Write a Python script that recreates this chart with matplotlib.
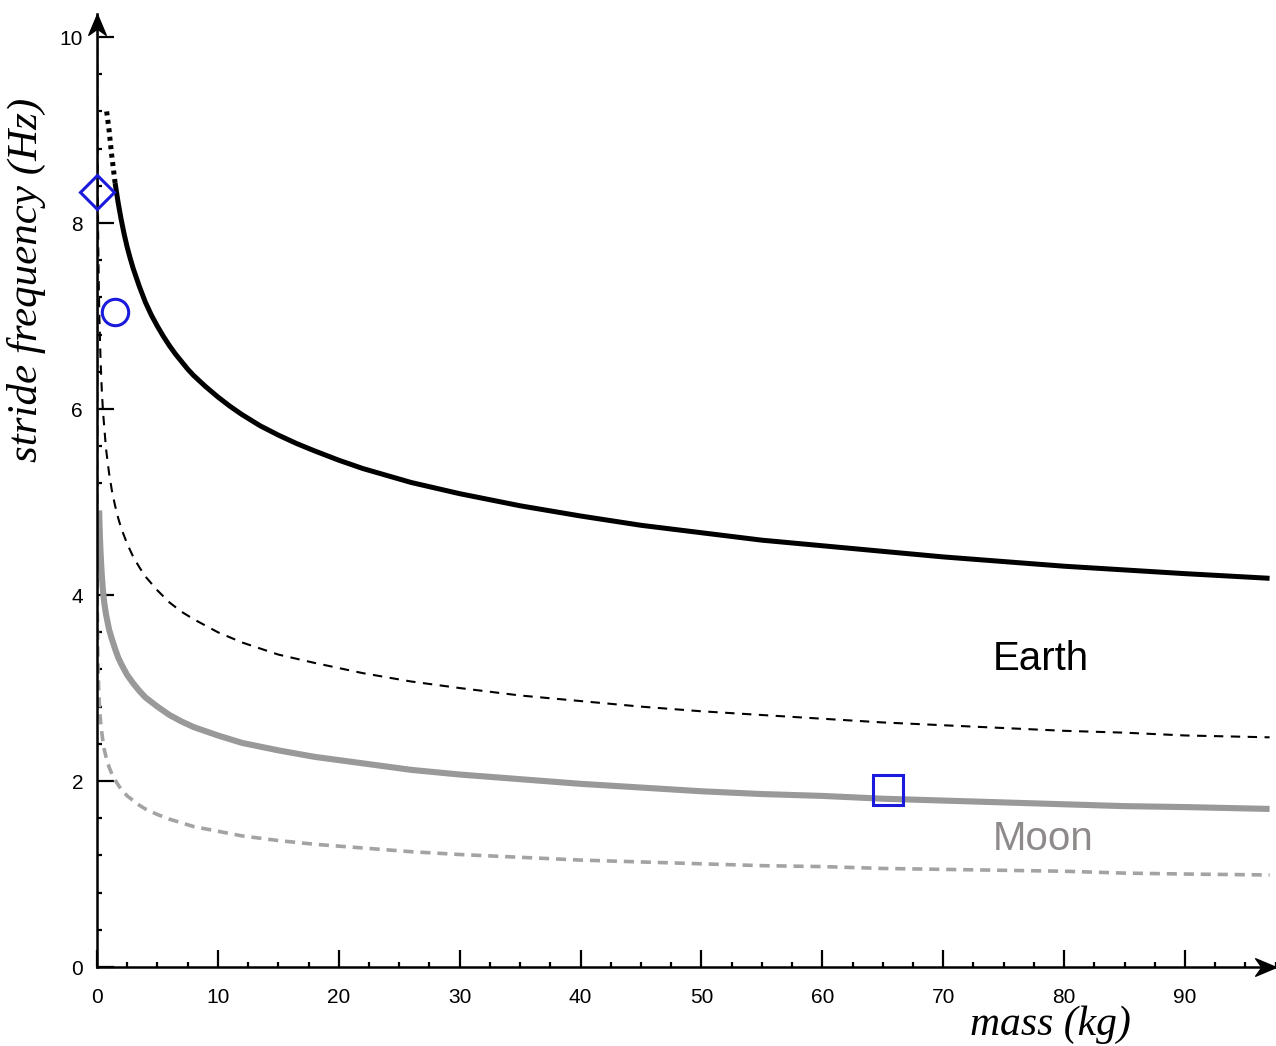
import matplotlib
matplotlib.use("Agg")
from matplotlib import pyplot as plt
from matplotlib.ticker import MultipleLocator
from matplotlib.path import Path

# mass (kg) and stride frequency (Hz)
earth_m = [1.5, 1.75, 2, 2.25, 2.5, 2.75, 3, 3.5, 4, 4.5, 5, 5.5, 6, 6.5, 7,
           7.5, 8, 9, 10, 11, 12, 13.5, 15, 16.5, 18, 20, 22, 26, 30, 35, 40,
           45, 50, 55, 60, 65, 70, 75, 80, 85, 90, 97]
earth_f = [8.43, 8.22, 8.04, 7.88, 7.74, 7.62, 7.51, 7.32, 7.15, 7.01, 6.89,
           6.78, 6.68, 6.59, 6.51, 6.43, 6.36, 6.24, 6.13, 6.03, 5.94, 5.82,
           5.72, 5.63, 5.55, 5.45, 5.36, 5.21, 5.09, 4.96, 4.85, 4.75, 4.67,
           4.59, 4.53, 4.47, 4.41, 4.36, 4.31, 4.27, 4.23, 4.18]
earth_tip_m = [0.8, 1.0, 1.2, 1.5]
earth_tip_f = [9.2, 9.0, 8.75, 8.43]

earth_low_m = [0.02, 0.03, 0.04, 0.05, 0.07, 0.1, 0.15, 0.2, 0.3, 0.4, 0.5,
               0.75, 1, 1.25, 1.5, 1.75, 2, 2.5, 3, 3.5, 4, 5, 6, 7, 8, 10,
               12, 15, 18, 22, 26, 30, 35, 40, 45, 50, 55, 60, 65, 70, 75, 80,
               85, 90, 97]
earth_low_f = [10.28, 9.60, 9.15, 8.81, 8.32, 7.84, 7.32, 6.97, 6.51, 6.20,
               5.97, 5.57, 5.31, 5.11, 4.96, 4.83, 4.72, 4.55, 4.41, 4.30,
               4.20, 4.05, 3.92, 3.82, 3.74, 3.60, 3.49, 3.36, 3.27, 3.16,
               3.07, 3.0, 2.92, 2.86, 2.80, 2.75, 2.71, 2.67, 2.63, 2.60,
               2.57, 2.54, 2.52, 2.49, 2.47]

moon_m = [0.18, 0.2, 0.25, 0.3, 0.35, 0.4, 0.5, 0.6, 0.75, 1, 1.25, 1.5, 1.75,
          2, 2.5, 3, 3.5, 4, 4.5, 5, 6, 7, 8, 9, 10, 11, 12, 15, 18, 22, 26,
          30, 35, 40, 45, 50, 55, 60, 65, 70, 75, 80, 85, 90, 97]
moon_f = [4.91, 4.80, 4.60, 4.45, 4.32, 4.21, 4.04, 3.92, 3.79, 3.63, 3.52,
          3.42, 3.33, 3.26, 3.14, 3.05, 2.97, 2.90, 2.85, 2.80, 2.71, 2.64,
          2.58, 2.535, 2.49, 2.45, 2.41, 2.33, 2.26, 2.19, 2.12, 2.07, 2.02,
          1.97, 1.93, 1.89, 1.86, 1.84, 1.81, 1.79, 1.77, 1.75, 1.73, 1.72,
          1.70]

moon_low_m = [0.0001, 0.0003, 0.001, 0.003, 0.01, 0.02, 0.03, 0.045, 0.06,
              0.1, 0.15, 0.2, 0.27, 0.35, 0.5, 0.6, 0.75, 1, 1.25, 1.5, 1.75,
              2, 2.5, 3, 3.5, 4, 5, 6, 7, 8, 10, 12, 15, 18, 22, 26, 30, 35,
              40, 45, 50, 55, 60, 65, 70, 75, 80, 85, 90, 97]
moon_low_f = [10.2, 8.46, 6.91, 5.74, 4.68, 4.16, 3.89, 3.63, 3.46, 3.17,
              2.96, 2.82, 2.68, 2.57, 2.42, 2.34, 2.26, 2.15, 2.07, 2.01,
              1.96, 1.91, 1.84, 1.79, 1.74, 1.70, 1.64, 1.59, 1.55, 1.51,
              1.46, 1.41, 1.36, 1.32, 1.28, 1.24, 1.21, 1.18, 1.15, 1.13,
              1.11, 1.09, 1.08, 1.06, 1.05, 1.04, 1.03, 1.01, 1.00, 0.99]

# blue points: diamond, circle, square
pts_m = [0.0, 1.5, 65.4]
pts_f = [8.33, 7.04, 1.90]
pts_marker = ["D", "o", "s"]
pts_size = [17, 19, 22]

fig = plt.figure(figsize=(12.76, 10.46), dpi=100)
ax = fig.add_axes([0.076, 0.0755, 0.9237, 0.9113])

ax.plot(earth_m, earth_f, color="black", lw=3.6, solid_capstyle="butt")
ax.plot(earth_tip_m, earth_tip_f, color="black", lw=3.6,
        linestyle=(0, (0.8, 0.9)))
ax.plot(earth_low_m, earth_low_f, color="black", lw=1.5,
        linestyle=(0, (4.5, 3.6)))
ax.plot(moon_m, moon_f, color="#999999", lw=4.4, solid_capstyle="butt")
ax.plot(moon_low_m, moon_low_f, color="#a3a3a3", lw=2.6,
        linestyle=(0, (2.8, 1.9)))

for m, f, mk, s in zip(pts_m, pts_f, pts_marker, pts_size):
    ax.plot(m, f, marker=mk, ms=s, mfc="none", mec="#1a1adc", mew=2.2,
            linestyle="none", clip_on=False, zorder=5)

ax.text(74.1, 3.19, "Earth", fontsize=29, family="Liberation Sans",
        color="black")
ax.text(74.1, 1.26, "Moon", fontsize=29, family="Liberation Sans",
        color="#8e8a8a")

ax.set_xlim(0, 97.5)
ax.set_ylim(0, 10.25)
ax.spines["top"].set_visible(False)
ax.spines["right"].set_visible(False)
ax.spines["left"].set_linewidth(1.8)
ax.spines["bottom"].set_linewidth(1.8)

ax.xaxis.set_major_locator(MultipleLocator(10))
ax.xaxis.set_minor_locator(MultipleLocator(2.5))
ax.yaxis.set_major_locator(MultipleLocator(2))
ax.yaxis.set_minor_locator(MultipleLocator(0.4))
ax.tick_params(which="major", direction="in", length=12, width=1.6,
               labelsize=15)
ax.tick_params(which="minor", direction="in", length=3.5, width=1.6)
ax.tick_params(axis="x", which="major", pad=15)
ax.tick_params(axis="y", which="major", pad=10)
for lab in ax.get_xticklabels() + ax.get_yticklabels():
    lab.set_family("Liberation Sans")

# notched arrow heads on the axes, tip on the point
right_head = Path([(0, 0), (-1, 0.42), (-0.7, 0), (-1, -0.42), (0, 0)],
                  closed=True)
up_head = Path([(0, 0), (-0.42, -1), (0, -0.7), (0.42, -1), (0, 0)],
               closed=True)
ax.plot(1, 0, marker=right_head, color="black", ms=30,
        transform=ax.transAxes, clip_on=False)
ax.plot(0, 1, marker=up_head, color="black", ms=30,
        transform=ax.transAxes, clip_on=False)

fig.text(0.021, 0.732, "stride frequency (Hz)", rotation=90, ha="center",
         va="center", fontsize=31, family="Liberation Serif", style="italic")
fig.text(0.823, 0.020, "mass (kg)", ha="center", va="center", fontsize=30,
         family="Liberation Serif", style="italic")

fig.savefig("out.png", dpi=100, facecolor="white")
plt.close(fig)
